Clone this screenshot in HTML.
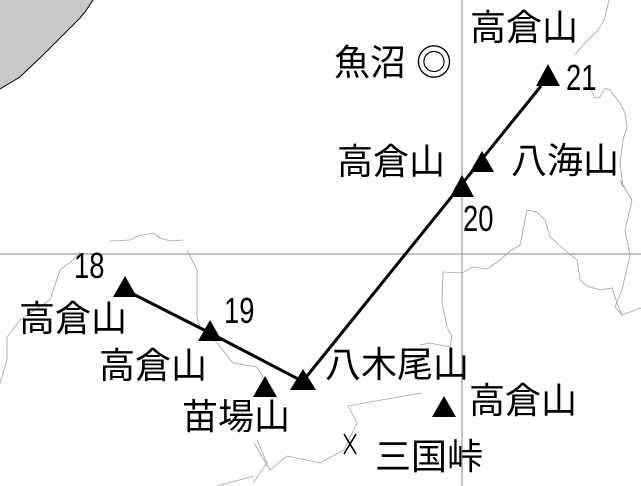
<!DOCTYPE html>
<html><head><meta charset="utf-8"><style>
html,body{margin:0;padding:0;background:#fff}
#c{position:relative;width:641px;height:486px;overflow:hidden;background:#fff}
.k{position:absolute;font-family:"Liberation Sans","Noto Sans CJK JP",sans-serif;font-size:36px;line-height:1;color:#000;white-space:nowrap}
.n{position:absolute;font-family:"Liberation Sans",sans-serif;font-size:36px;line-height:1;color:#000;transform:scaleX(0.76);transform-origin:0 0}
svg{position:absolute;left:0;top:0}
</style></head><body><div id="c">
<svg width="641" height="486" viewBox="0 0 641 486">
<path d="M0,0 L93,0 L85,12 L80,18 L60,38 L42,56 L25,72 L20,77 L0,89 Z" fill="#c8c8c8" stroke="none"/>
<path d="M93,0 L85,12 L80,18 L60,38 L42,56 L25,72 L20,77 L0,89" fill="none" stroke="#000" stroke-width="1"/>
<g fill="none" stroke="#888" stroke-width="1">
<line x1="462" y1="0" x2="462" y2="486"/>
<line x1="0" y1="254" x2="641" y2="254"/>
</g>
<g fill="none" stroke="#a0a0a0" stroke-width="0.8">
<polyline points="609,0 605,17 603,22 598,30 583,45 575,55"/>
<polyline points="590,88 595,98 600,97 605,88 610,90 620,103 625,113 627,127 623,140 620,163 623,187 620,180 632,200 625,230 630,255 622,290 615,307 622,315 641,308"/>
<polyline points="420,345 430,343 450,347 452,337 447,327 442,303 443,272 462,273 473,267 487,269 500,260 510,251 520,245 527,210 537,212 545,220 550,237 567,252 577,260 580,280 587,286 600,290 612,288 617,303 622,315"/>
<polyline points="110,241 130,240 138,236 153,233 160,238 170,241 183,240"/>
<polyline points="0,383 7,360 7,337 20,320 50,300 60,270 73,260 80,252"/>
<polyline points="187,250 197,270 197,317 200,327 217,343 233,363 257,367 263,377"/>
<polyline points="257,440 267,463 253,483"/>
<polyline points="254,443 270,470 287,456 320,463 344,450 357,423 348,406 381,400 422,393"/>
<polyline points="217,486 254,476"/>
</g>
<g stroke="#000" stroke-width="3" fill="none">
<line x1="541" y1="86" x2="307" y2="376"/>
<line x1="133" y1="294" x2="210" y2="333"/>
<line x1="210" y1="333" x2="300" y2="380"/>
</g>
<g fill="#000">
<polygon points="548,64 536,86 560,86"/>
<polygon points="482,151 470,172 494,172"/>
<polygon points="462,175 450,197 474,197"/>
<polygon points="125,276 113,297 137,297"/>
<polygon points="210,320 198,341 222,341"/>
<polygon points="265,376 253,397 277,397"/>
<polygon points="303,369 290,390 316,390"/>
<polygon points="444,396 432,417 456,417"/>
</g>
<g stroke="#000" stroke-width="1.6" fill="none">
<line x1="344" y1="434" x2="356" y2="454"/>
<line x1="356" y1="434" x2="344" y2="454"/>
</g>
</svg>
<div class="k" style="left:470px;top:10px">高倉山</div>
<div class="k" style="left:334px;top:45px">魚沼 ◎</div>
<div class="k" style="left:337px;top:144px">高倉山</div>
<div class="k" style="left:511px;top:143px">八海山</div>
<div class="k" style="left:19px;top:301px">高倉山</div>
<div class="k" style="left:99px;top:348px">高倉山</div>
<div class="k" style="left:182px;top:399px">苗場山</div>
<div class="k" style="left:325px;top:347px">八木尾山</div>
<div class="k" style="left:469px;top:383px">高倉山</div>
<div class="k" style="left:375px;top:439px">三国峠</div>
<div class="n" style="left:566px;top:60px">21</div>
<div class="n" style="left:463px;top:201px">20</div>
<div class="n" style="left:74px;top:248px">18</div>
<div class="n" style="left:224px;top:293px">19</div>
</div></body></html>
